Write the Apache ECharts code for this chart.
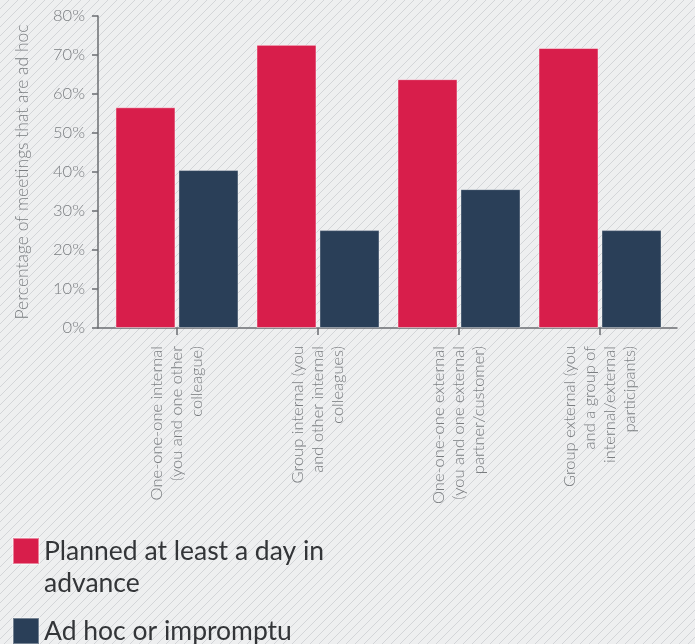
<!DOCTYPE html>
<html>
<head>
<meta charset="utf-8">
<script src="https://cdn.jsdelivr.net/npm/echarts@6/dist/echarts.min.js"></script>
<style>
html,body{margin:0;padding:0;background:#eeeff0;}
#chart{width:695px;height:644px;}
</style>
</head>
<body>
<div id="chart"></div>
<script>
const categories = [
  "One-one-one internal\n(you and one other\ncolleague)",
  "Group internal (you\nand other internal\ncolleagues)",
  "One-one-one external\n(you and one external\npartner/customer)",
  "Group external (you\nand a group of\ninternal/external\nparticipants)"
];
const seriesNames = ["Planned at least a day in\nadvance", "Ad hoc or impromptu"];
const plannedValues = [56.6, 72.6, 63.8, 71.8];
const adhocValues = [40.5, 25.1, 35.6, 25.1];
const yTicks = [0, 10, 20, 30, 40, 50, 60, 70, 80];
const yAxisName = "Percentage of meetings that are ad hoc";

function makePattern() {
  const s = 9;
  const c = document.createElement('canvas');
  c.width = s; c.height = s;
  const ctx = c.getContext('2d');
  ctx.fillStyle = '#eeeff0';
  ctx.fillRect(0, 0, s, s);
  ctx.strokeStyle = '#d3d5d8';
  ctx.lineWidth = 1;
  ctx.beginPath();
  ctx.moveTo(-1, s + 1); ctx.lineTo(s + 1, -1);
  ctx.moveTo(-1, 1); ctx.lineTo(1, -1);
  ctx.moveTo(s - 1, s + 1); ctx.lineTo(s + 1, s - 1);
  ctx.stroke();
  return c;
}

const chart = echarts.init(document.getElementById('chart'), null, {renderer: 'canvas'});
const idx = categories.map((_, i) => i);
const font = 'Lato, "Open Sans", sans-serif';

chart.setOption({
  backgroundColor: {image: makePattern(), repeat: 'repeat'},
  animation: false,
  grid: {left: 98, right: 18, top: 16, bottom: 316, containLabel: false},
  xAxis: {
    type: 'value',
    min: -0.56,
    max: 3.546,
    splitLine: {show: false},
    axisLine: {show: true, lineStyle: {color: '#6b6e72', width: 1.5}},
    axisTick: {show: true, length: 7, customValues: idx, lineStyle: {color: '#6b6e72', width: 1.5}},
    axisLabel: {
      customValues: idx,
      rotate: 90,
      margin: 18,
      align: 'right',
      fontSize: 16.5,
      lineHeight: 20,
      fontWeight: 300,
      fontFamily: font,
      color: '#7a7d80',
      formatter: v => categories[Math.round(v)]
    }
  },
  yAxis: {
    type: 'value',
    min: 0,
    max: 80,
    interval: 10,
    name: yAxisName,
    nameLocation: 'middle',
    nameRotate: 90,
    nameGap: 67,
    nameTextStyle: {fontSize: 17.5, fontWeight: 300, fontFamily: font, color: '#7a7d80'},
    splitLine: {show: false},
    axisLine: {show: true, onZero: false, lineStyle: {color: '#6b6e72', width: 1.5}},
    axisTick: {show: true, length: 6, lineStyle: {color: '#6b6e72', width: 1.5}},
    axisLabel: {
      margin: 13,
      fontSize: 16.5,
      fontWeight: 300,
      fontFamily: font,
      color: '#7a7d80',
      formatter: v => yTicks.includes(v) ? v + '%' : ''
    }
  },
  legend: {
    orient: 'vertical',
    left: 12,
    top: 503,
    padding: 0,
    itemGap: 16,
    itemWidth: 26,
    itemHeight: 26,
    icon: 'rect',
    textStyle: {fontSize: 26.5, lineHeight: 32, color: '#333538', fontFamily: font},
    formatter: name => name.indexOf('\n') >= 0 ? '\u00a0\n' + name : name,
    data: [seriesNames[0], seriesNames[1]]
  },
  series: [
    {
      name: seriesNames[0],
      type: 'bar',
      barWidth: 60,
      barGap: '5%',
      itemStyle: {color: '#d81e4b', borderColor: 'rgba(255,255,255,0.45)', borderWidth: 1},
      data: plannedValues.map((v, i) => [i, v])
    },
    {
      name: seriesNames[1],
      type: 'bar',
      barWidth: 60,
      barGap: '5%',
      itemStyle: {color: '#2a3f58', borderColor: 'rgba(255,255,255,0.35)', borderWidth: 1},
      data: adhocValues.map((v, i) => [i, v])
    }
  ]
});
</script>
</body>
</html>
